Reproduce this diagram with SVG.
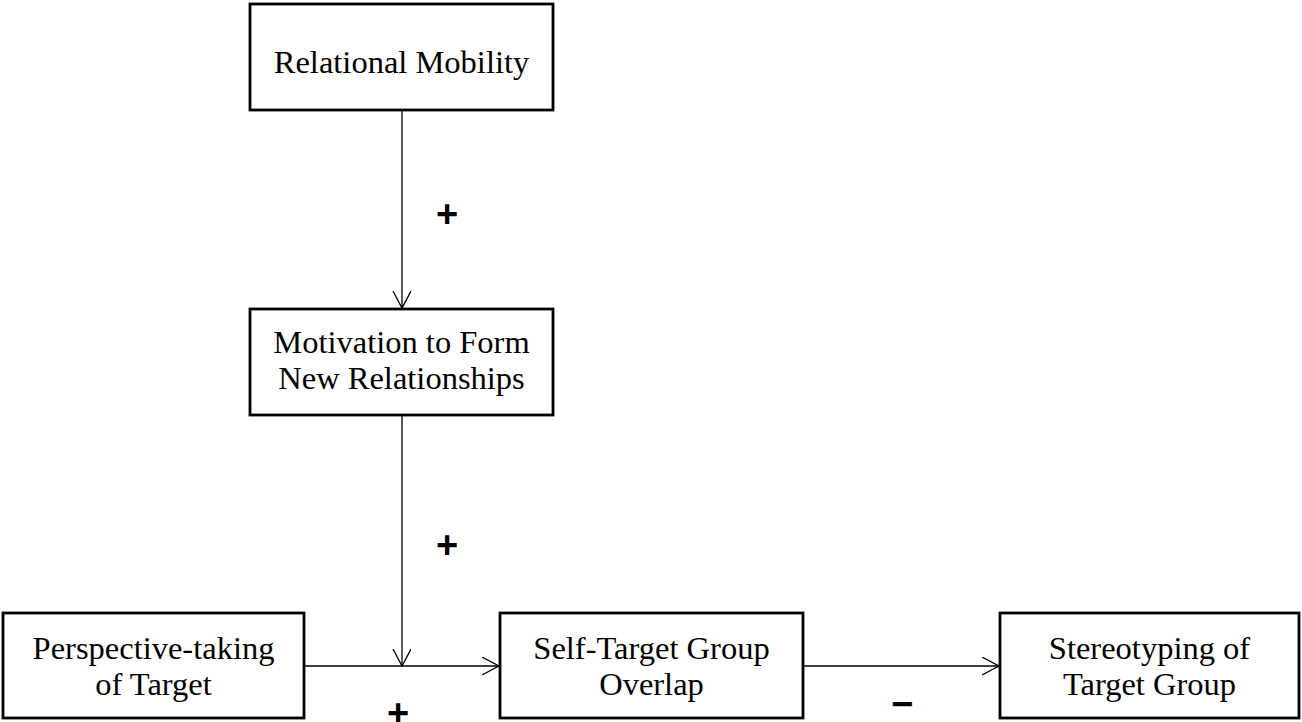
<svg xmlns="http://www.w3.org/2000/svg" width="1302" height="722" viewBox="0 0 1302 722">
<style>
.box{fill:#fff;stroke:#000;stroke-width:2.8}
.lbl{font-family:"Liberation Serif","Times New Roman",serif;font-size:32.5px;fill:#000;text-anchor:middle}
.sign{font-family:"Liberation Sans",Arial,sans-serif;font-size:38px;font-weight:bold;fill:#000;text-anchor:middle}
.edge{fill:none;stroke:#000;stroke-width:1.3}
</style>
<defs>
<marker id="arr" markerUnits="userSpaceOnUse" markerWidth="20" markerHeight="20" refX="17" refY="9" orient="auto">
<path d="M0,0 L17,9 L0,18" fill="none" stroke="#000" stroke-width="1.3"/>
</marker>
</defs>
<rect width="1302" height="722" fill="#fff"/>
<g id="connectors">
<path class="edge" d="M402,110 L402,308" marker-end="url(#arr)"/>
<path class="edge" d="M402,415 L402,666" marker-end="url(#arr)"/>
<path class="edge" d="M304,666 L499,666" marker-end="url(#arr)"/>
<path class="edge" d="M803,666 L999,666" marker-end="url(#arr)"/>
<text class="sign" x="447" y="227">+</text>
<text class="sign" x="447" y="558">+</text>
<text class="sign" x="398" y="726">+</text>
<text class="sign" x="902" y="717">−</text>
</g>
<g id="relational-mobility">
<rect class="box" x="250" y="4" width="303" height="106"/>
<text class="lbl" x="401.5" y="73">Relational Mobility</text>
</g>
<g id="motivation">
<rect class="box" x="250" y="309" width="303" height="106"/>
<text class="lbl" x="401.5" y="353">Motivation to Form</text>
<text class="lbl" x="401.5" y="389">New Relationships</text>
</g>
<g id="perspective-taking">
<rect class="box" x="3" y="613" width="301" height="105"/>
<text class="lbl" x="153.5" y="659">Perspective-taking</text>
<text class="lbl" x="153.5" y="695">of Target</text>
</g>
<g id="self-target-overlap">
<rect class="box" x="500" y="613" width="303" height="105"/>
<text class="lbl" x="651.5" y="659">Self-Target Group</text>
<text class="lbl" x="651.5" y="695">Overlap</text>
</g>
<g id="stereotyping">
<rect class="box" x="1000" y="613" width="299" height="105"/>
<text class="lbl" x="1149.5" y="659">Stereotyping of</text>
<text class="lbl" x="1149.5" y="695">Target Group</text>
</g>
</svg>
